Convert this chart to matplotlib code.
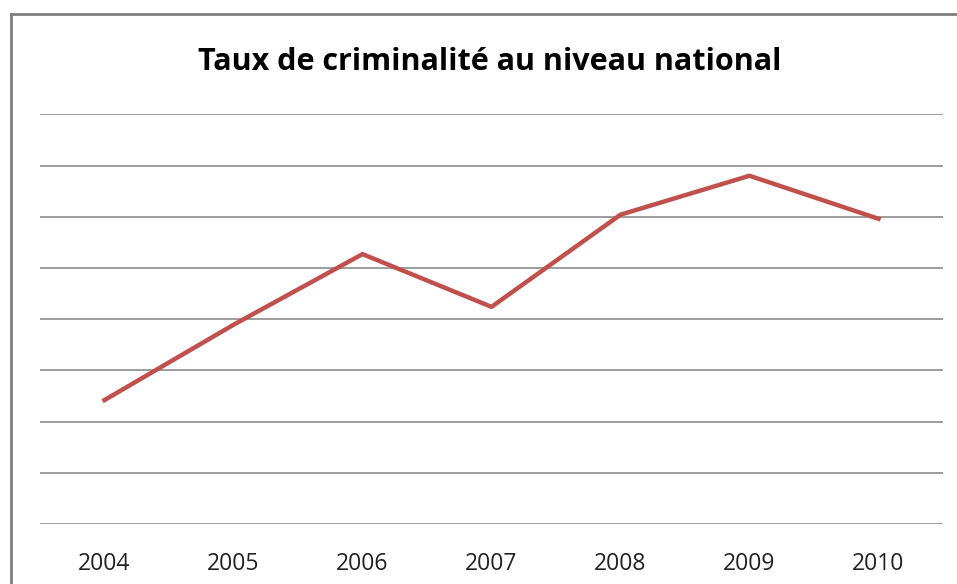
import matplotlib.pyplot as plt
from matplotlib.lines import Line2D

years = ['2004', '2005', '2006', '2007', '2008', '2009', '2010']
taux = [2.42, 3.89, 5.27, 4.24, 6.04, 6.80, 5.96]

fig = plt.figure(figsize=(9.57, 5.84), dpi=100)
ax = fig.add_axes([40/957, 1-524/584, 903/957, (524-114.3)/584])

x = range(len(years))
ax.plot(x, taux, color='#C0504D', linewidth=3.2)

ax.set_xlim(-0.5, len(years)-0.5)
ax.set_ylim(0, 8)
ax.set_yticks(range(0, 9))
ax.set_yticklabels([])
ax.set_xticks(list(x))
ax.set_xticklabels(years, fontsize=16.5, family='Open Sans', color='#222222')
ax.tick_params(axis='both', length=0, pad=20)
ax.grid(axis='y', color='#8c8c8c', linewidth=1.2)
ax.set_axisbelow(True)
for s in ax.spines.values():
    s.set_visible(False)

fig.text(490/957, 1-62/584, 'Taux de criminalité au niveau national',
         ha='center', va='center', fontsize=22, fontweight='bold', family='Open Sans')

# outer chart frame (left and top edges visible)
fig.add_artist(Line2D([10.5/957, 10.5/957], [0, 1-14/584], transform=fig.transFigure,
                      color='#7f7f7f', linewidth=2))
fig.add_artist(Line2D([10.5/957, 1], [1-14/584, 1-14/584], transform=fig.transFigure,
                      color='#7f7f7f', linewidth=2))

plt.savefig('out.png', dpi=100)
